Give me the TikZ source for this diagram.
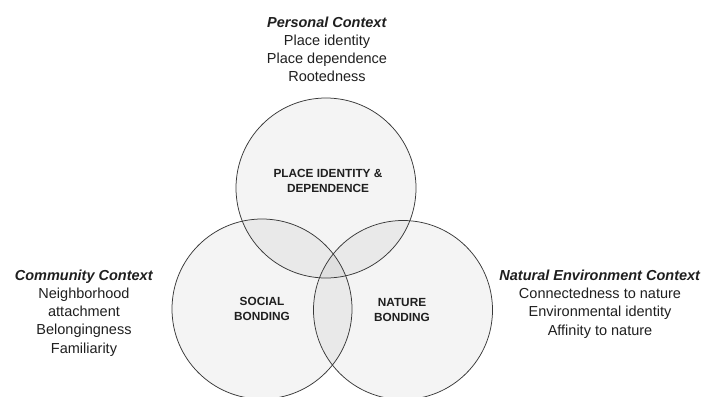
\documentclass[tikz,border=0pt]{standalone}
\usepackage{fontspec}
\setmainfont{Liberation Sans}
\begin{document}
\begin{tikzpicture}[x=1pt,y=-1pt,
  ring/.style={draw=black!78,line width=0.75pt},
  ringfill/.style={fill=black,fill opacity=0.045},
  ctx/.style={align=center,inner sep=0pt,text=black!88,font=\fontsize{14.5}{18.2}\selectfont},
  inlab/.style={align=center,inner sep=0pt,text=black!88,font=\fontsize{11.8}{15}\selectfont\bfseries}]
\useasboundingbox (0,0) rectangle (706,396);
% fills
\fill[ringfill] (326,188) circle[radius=90];
\fill[ringfill] (262,309) circle[radius=90];
\fill[ringfill] (403,310) circle[radius=89.5];
% outlines
\node[ring,circle,minimum size=180pt,inner sep=0pt] (top) at (326,188) {};
\node[ring,circle,minimum size=180pt,inner sep=0pt] (left) at (262,309) {};
\node[ring,circle,minimum size=179pt,inner sep=0pt] (right) at (403,310) {};
% inner labels
\node[inlab] (pid) at (328,181) {PLACE IDENTITY \&\\DEPENDENCE};
\node[inlab] (soc) at (262,309) {SOCIAL\\BONDING};
\node[inlab] (nat) at (402,310) {NATURE\\BONDING};
% context texts
\node[ctx] (pers) at (327,49.5) {\textbf{\textit{Personal Context}}\\Place identity\\Place dependence\\Rootedness};
\node[ctx] (comm) at (84,313) {\textbf{\textit{Community Context}}\\Neighborhood\\attachment\\Belongingness\\Familiarity};
\node[ctx] (env) at (600,304) {\textbf{\textit{Natural Environment Context}}\\Connectedness to nature\\Environmental identity\\Affinity to nature};
\end{tikzpicture}
\end{document}
